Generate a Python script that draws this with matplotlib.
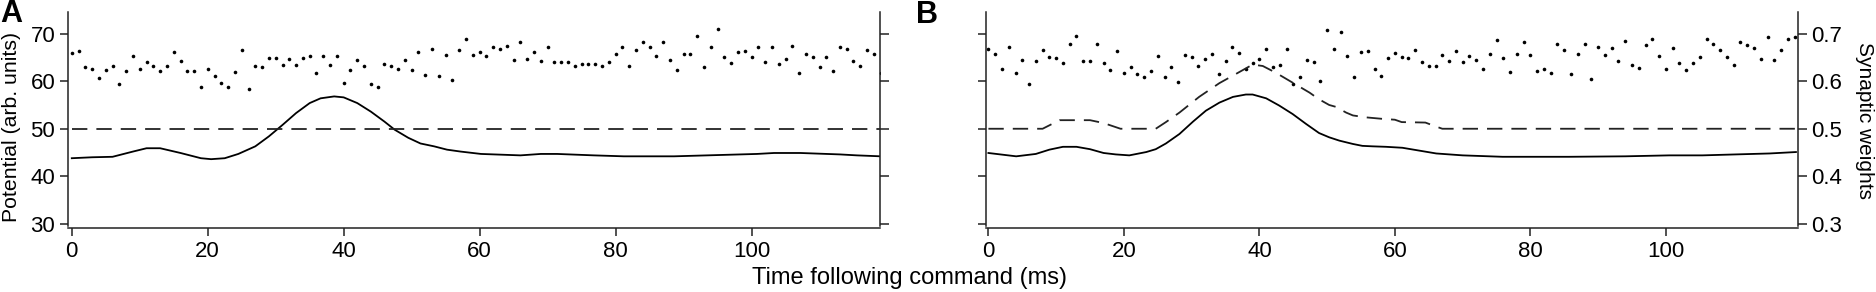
import matplotlib
matplotlib.use("Agg")
import matplotlib.pyplot as plt
import numpy as np

plt.rcParams['font.family'] = ['Liberation Sans', 'DejaVu Sans']

# ---------------- data ----------------
t_dots = list(range(120))

dotsA = [65.9, 66.3, 62.9, 62.5, 60.6, 62.3, 63.1, 59.4, 62.2, 65.4,
         62.6, 64.1, 63.1, 62.2, 63.2, 66.1, 64.3, 62.2, 62.2, 58.8,
         62.6, 61.2, 59.6, 58.8, 61.9, 66.5, 58.3, 63.2, 62.9, 64.8,
         64.8, 63.4, 64.7, 63.4, 64.8, 65.4, 61.7, 65.2, 63.4, 65.2,
         59.6, 62.3, 64.5, 63.2, 59.4, 58.8, 63.6, 63.2, 62.5, 64.5,
         62.3, 66.1, 61.4, 66.8, 61.2, 65.6, 60.3, 66.5, 68.9, 65.6,
         66.1, 65.2, 67.1, 66.7, 67.4, 64.5, 68.3, 64.7, 66.1, 64.3,
         67.1, 64.1, 64.0, 64.0, 63.2, 63.6, 63.6, 63.6, 63.1, 64.0,
         65.8, 67.3, 63.1, 66.5, 68.2, 67.1, 65.2, 68.2, 64.5, 62.3,
         65.8, 65.8, 69.6, 62.9, 67.3, 70.9, 65.0, 63.8, 66.1, 66.4,
         65.0, 67.3, 64.0, 67.3, 63.6, 64.7, 67.4, 61.7, 65.8, 65.0,
         62.9, 65.0, 62.2, 67.3, 66.7, 64.3, 63.1, 66.5, 65.8, 61.7]

dotsB = [66.7, 65.7, 62.6, 67.2, 61.8, 64.5, 59.4, 64.2, 66.6, 65.1,
         64.8, 63.8, 67.8, 69.5, 64.2, 64.2, 67.9, 63.8, 62.4, 66.4,
         61.8, 63.0, 61.6, 60.9, 62.1, 65.2, 60.9, 63.0, 59.8, 65.6,
         65.0, 63.1, 64.6, 65.7, 61.6, 64.2, 67.3, 65.9, 62.6, 63.8,
         64.6, 66.8, 63.0, 63.4, 66.7, 59.5, 60.9, 64.4, 64.0, 60.0,
         70.8, 66.7, 70.3, 65.4, 60.9, 66.1, 66.4, 62.5, 61.1, 64.9,
         66.0, 65.1, 64.9, 66.5, 64.0, 63.1, 63.1, 65.5, 64.2, 66.3,
         64.0, 65.4, 64.5, 62.5, 65.7, 68.6, 64.9, 62.0, 65.8, 68.3,
         65.6, 62.2, 62.6, 61.7, 67.9, 66.5, 61.5, 65.8, 67.9, 60.5,
         67.1, 65.5, 66.9, 64.3, 68.4, 63.4, 62.7, 67.6, 68.8, 65.4,
         62.5, 66.9, 63.8, 62.3, 63.8, 65.1, 68.8, 67.9, 66.5, 65.1,
         63.4, 68.3, 67.7, 67.0, 64.7, 69.2, 64.5, 66.5, 68.8, 69.3]

tA = [0, 3, 6, 9, 11, 13, 16, 19, 20.5, 22.5, 24.5, 27, 29, 31, 33, 35, 36.6,
      38.6, 40, 42, 44, 46, 47.5, 49.5, 51.3, 53.3, 55.2, 57.2, 60.2, 66, 69,
      71.4, 76.8, 81.2, 88.6, 95.9, 100.8, 103.3, 107.2, 113, 115.5, 119]
potA = [43.8, 44.0, 44.1, 45.2, 45.9, 45.9, 44.9, 43.8, 43.6, 43.8, 44.7, 46.3,
        48.4, 50.8, 53.3, 55.4, 56.4, 56.8, 56.6, 55.4, 53.6, 51.5, 49.8, 48.1,
        46.9, 46.3, 45.6, 45.2, 44.7, 44.4, 44.7, 44.7, 44.4, 44.2, 44.2, 44.5,
        44.7, 44.9, 44.9, 44.6, 44.4, 44.2]

tB = [0, 4.1, 7, 9, 11, 13, 15, 17, 18.8, 20.8, 23.3, 24.7, 26.2, 28.2, 30.2,
      32.1, 34.1, 36.1, 38, 39, 41, 42.9, 44.9, 46.9, 48.8, 50.3, 51.8, 53.8,
      55.2, 56.7, 58.7, 61.1, 63.6, 66.1, 70, 75.9, 85.7, 94, 100.5, 105.4,
      110.3, 115.3, 119.2]
potB = [44.9, 44.2, 44.7, 45.6, 46.2, 46.2, 45.7, 44.9, 44.6, 44.4, 45.1, 45.7,
        46.9, 48.9, 51.5, 53.8, 55.5, 56.7, 57.2, 57.2, 56.4, 54.9, 53.1, 51.0,
        49.1, 48.2, 47.5, 46.8, 46.4, 46.3, 46.2, 46.0, 45.4, 44.8, 44.4, 44.1,
        44.1, 44.2, 44.4, 44.4, 44.6, 44.8, 45.1]

tWA = [0, 119]
wA = [0.5, 0.5]

tWB = [0, 8, 10.5, 15, 17, 19.5, 24.7, 26.2, 28.2, 31.1, 34.1, 36, 38, 39,
       40.5, 42.4, 44.9, 47.4, 48.8, 50.3, 51.3, 52.8, 53.8, 55.7, 58, 60, 61,
       64.5, 66, 67, 119.3]
wB = [0.5, 0.5, 0.518, 0.518, 0.512, 0.5, 0.5, 0.514, 0.534, 0.567, 0.596,
      0.611, 0.627, 0.635, 0.632, 0.618, 0.597, 0.576, 0.562, 0.55, 0.546,
      0.534, 0.528, 0.524, 0.521, 0.519, 0.514, 0.513, 0.505, 0.5, 0.5]

xticks = [0, 20, 40, 60, 80, 100]
yticks = [30, 40, 50, 60, 70]
wticks = [0.3, 0.4, 0.5, 0.6, 0.7]
wticklabels = ['0.3', '0.4', '0.5', '0.6', '0.7']

# ---------------- figure ----------------
W, H = 1876, 292
fig = plt.figure(figsize=(W / 100, H / 100), dpi=100)

spine_col = '#222222'
FS = 16


def make_panel(left_px, xlim, dots, t_line, pot, t_w, w, show_left, show_right):
    axw = 812.3
    ax = fig.add_axes([left_px / W, (H - 226.2) / H, axw / W, 214.4 / H])
    ax2 = ax.twinx()
    ax.set_xlim(*xlim)
    ax.set_ylim(29.5, 74.6)
    ax2.set_ylim(0.295, 0.746)
    ax.plot(t_dots, dots, 'o', color='black', ms=2.6, mec='none')
    ax.plot(t_line, pot, '-', color='black', lw=1.3)
    ax2.plot(t_w, w, color='#222222', lw=1.3, dashes=(8.5, 5))
    for s in ['top', 'right']:
        ax.spines[s].set_visible(False)
    for s in ['top', 'left', 'bottom']:
        ax2.spines[s].set_visible(False)
    ax.spines['bottom'].set_position(('outward', 1.5))
    for s in ['left', 'bottom']:
        ax.spines[s].set_color(spine_col)
        ax.spines[s].set_linewidth(1.1)
    ax2.spines['right'].set_color(spine_col)
    ax2.spines['right'].set_linewidth(1.1)
    ax.set_xticks(xticks)
    ax.set_xticklabels([str(v) for v in xticks])
    ax.set_yticks(yticks)
    ax2.set_yticks(wticks)
    ax.tick_params(axis='both', direction='out', length=6, width=1.1,
                   color=spine_col, labelsize=FS, pad=3)
    ax2.tick_params(axis='y', direction='out', length=6.5, width=1.1,
                    color=spine_col, labelsize=FS, pad=3)
    if show_left:
        ax.set_yticklabels([str(v) for v in yticks])
    else:
        ax.set_yticklabels([])
    if show_right:
        ax2.set_yticklabels(wticklabels)
    else:
        ax2.set_yticklabels([])
    return ax, ax2


axA, axA2 = make_panel(67.7, (-0.6, 118.9), dotsA, tA, potA, tWA, wA, True, False)
axB, axB2 = make_panel(985.7, (-0.4, 119.5), dotsB, tB, potB, tWB, wB, False, True)

fig.text(12 / W, 1 - 127 / H, 'Potential (arb. units)', rotation=90,
         ha='center', va='center', fontsize=15.3)
fig.text(1864 / W, 1 - 120 / H, 'Synaptic weights', rotation=270,
         ha='center', va='center', fontsize=15)
fig.text(909 / W, 1 - 278 / H, 'Time following command (ms)',
         ha='center', va='center', fontsize=17)
fig.text(0 / W, 1 - 14 / H, 'A', fontsize=22, fontweight='bold',
         ha='left', va='center')
fig.text(916 / W, 1 - 15 / H, 'B', fontsize=22, fontweight='bold',
         ha='left', va='center')

fig.savefig('out.png', dpi=100)
